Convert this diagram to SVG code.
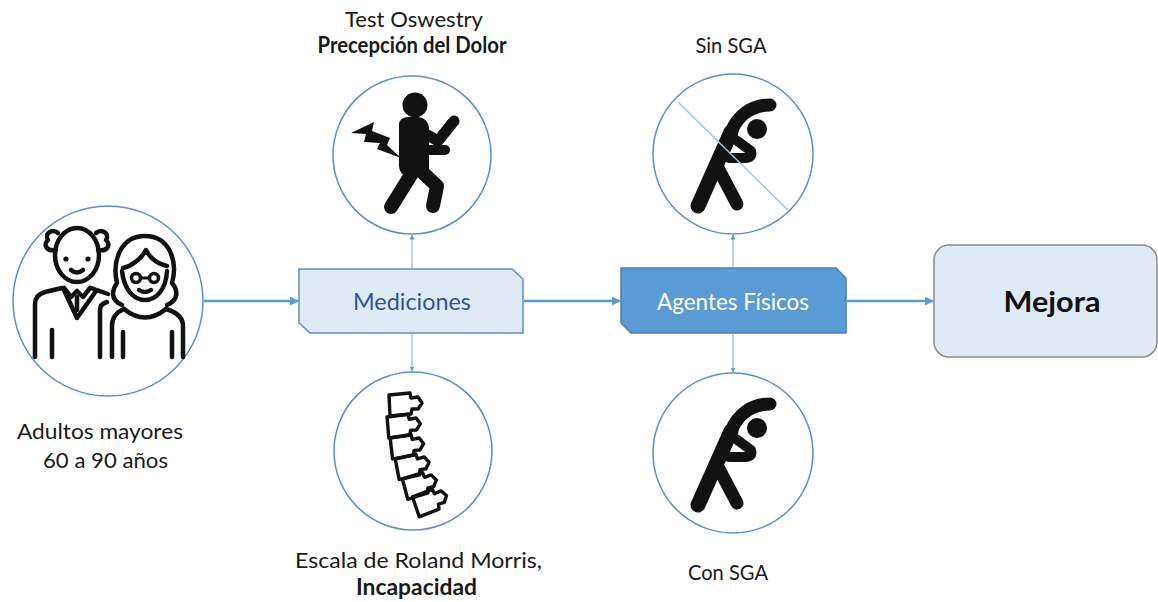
<svg xmlns="http://www.w3.org/2000/svg" width="1158" height="602" viewBox="0 0 1158 602">
  <defs>
    <marker id="arrow" viewBox="0 0 10 10" refX="9" refY="5" markerWidth="5" markerHeight="5" orient="auto" markerUnits="userSpaceOnUse">
      <path d="M0,0 L10,5 L0,10 z" fill="#5B9BD5"/>
    </marker>
    <marker id="arrowS" viewBox="0 0 10 10" refX="9" refY="5" markerWidth="9" markerHeight="9" orient="auto" markerUnits="userSpaceOnUse">
      <path d="M0,0 L10,5 L0,10 z" fill="#5B9BD5"/>
    </marker>
    <path id="vert" d="M0,2 L21,0 L22,5 L29,4 L33,10 L29,16 L23,16 L22,21 L1,23 Z"/>
  </defs>
  <style>
    .lbl { font-family: Lato, "Open Sans", "Liberation Sans", sans-serif; font-size: 22px; fill: #1a1a1a; }
    .b { font-weight: bold; }
    .ring { fill: #ffffff; stroke: #5B8FC9; stroke-width: 1.5; }
    .line-h { stroke: #5B9BD5; stroke-width: 2.5; fill: none; }
    .line-v { stroke: #8DB6E0; stroke-width: 1.2; fill: none; }
    .ink { fill: none; stroke: #111; stroke-width: 4.5; stroke-linecap: round; stroke-linejoin: round; }
    .solid { fill: #111; }
    .limb { fill: none; stroke: #111; stroke-linecap: round; stroke-linejoin: round; }
  </style>
  <rect width="1158" height="602" fill="#ffffff"/>

  <!-- connectors -->
  <g id="connectors">
    <line class="line-h" x1="204" y1="301" x2="298" y2="301" marker-end="url(#arrowS)"/>
    <line class="line-h" x1="524" y1="301" x2="620" y2="301" marker-end="url(#arrowS)"/>
    <line class="line-h" x1="847" y1="301" x2="933" y2="301" marker-end="url(#arrowS)"/>
    <line class="line-v" x1="412" y1="268" x2="412" y2="235" marker-end="url(#arrow)"/>
    <line class="line-v" x1="412" y1="334" x2="412" y2="371" marker-end="url(#arrow)"/>
    <line class="line-v" x1="733" y1="267" x2="733" y2="235" marker-end="url(#arrow)"/>
    <line class="line-v" x1="733" y1="334" x2="733" y2="372" marker-end="url(#arrow)"/>
  </g>

  <!-- elderly couple -->
  <g id="adultos">
    <circle class="ring" cx="108" cy="301" r="95"/>
    <!-- man -->
    <ellipse class="ink" cx="77" cy="255" rx="22" ry="27"/>
    <path class="ink" d="M56,250 C46,252 43,244 48,240 C44,234 52,228 58,233"/>
    <path class="ink" d="M98,250 C108,252 111,244 106,240 C110,234 102,228 96,233"/>
    <circle class="solid" cx="66" cy="259" r="2.6"/>
    <circle class="solid" cx="88" cy="259" r="2.6"/>
    <path class="ink" d="M71,270 Q77,275 83,270"/>
    <path class="ink" d="M64,288 L71,297 L77,291 L83,297 L90,288"/>
    <path class="ink" d="M77,297 L77,310"/>
    <path class="ink" d="M64,290 L77,318 L96,291"/>
    <path class="ink" d="M35,357 L35,304 Q35,295 45,292 L62,288"/>
    <path class="ink" d="M91,288 L108,294"/>
    <path class="ink" d="M52,357 L52,330"/>
    <path class="ink" d="M100,357 L100,310 Q100,304 107,302"/>
    <!-- woman -->
    <path class="ink" d="M122,305 C110,300 112,290 117,283 C112,262 120,236 145,236 C170,236 178,262 172,283 C178,290 179,300 167,305"/>
    <path class="ink" d="M123,268 C132,266 142,258 146,250 C150,258 158,264 167,266"/>
    <path class="ink" d="M122,271 C124,290 134,300 145,300 C156,300 166,290 167,271"/>
    <circle class="ink" cx="136" cy="278" r="4.5" style="stroke-width:3.5"/>
    <circle class="ink" cx="154" cy="278" r="4.5" style="stroke-width:3.5"/>
    <path class="ink" d="M141,278 L149,278" style="stroke-width:3"/>
    <path class="ink" d="M139,290 Q145,294 151,290"/>
    <path class="ink" d="M124,309 Q145,326 166,309"/>
    <path class="ink" d="M112,357 L112,326 Q112,314 124,309"/>
    <path class="ink" d="M183,357 L183,326 Q183,314 166,309"/>
    <path class="ink" d="M123,357 L123,332"/>
    <path class="ink" d="M172,357 L172,332"/>
  </g>

  <!-- pain figure -->
  <g id="oswestry">
    <circle class="ring" cx="412" cy="155" r="79"/>
    <circle class="solid" cx="415" cy="105" r="12.5"/>
    <path class="solid" d="M399,125 Q399,117 409,117 L418,117 Q428,118 429,128 L429,168 Q429,177 420,177 L412,177 Q400,177 399,166 Z"/>
    <path class="limb" d="M424,133 L438,141 L454,121" stroke-width="11"/>
    <path class="limb" d="M426,150 L445,150" stroke-width="10"/>
    <path class="limb" d="M414,170 L391,207" stroke-width="14"/>
    <path class="limb" d="M420,170 L437,186 L433,206" stroke-width="14"/>
    <polygon class="solid" points="351,133 374,122 372,131 390,138 387,145 401,158 377,149 380,143 364,142 366,134"/>
  </g>

  <!-- spine -->
  <g id="roland-morris" fill="none" stroke="#111" stroke-width="3.4" stroke-linejoin="round">
    <circle class="ring" cx="413" cy="451" r="79"/>
    <use href="#vert" transform="translate(389,393)"/>
    <use href="#vert" transform="translate(387,415) rotate(-2)"/>
    <use href="#vert" transform="translate(390,436) rotate(-4)"/>
    <use href="#vert" transform="translate(395,457) rotate(-8)"/>
    <use href="#vert" transform="translate(402,477) rotate(-12)"/>
    <use href="#vert" transform="translate(412,495) rotate(-16)"/>
  </g>

  <!-- stretching, crossed out -->
  <g id="sin-sga">
    <circle class="ring" cx="733" cy="154" r="80"/>
    <circle class="solid" cx="757" cy="129" r="10"/>
    <path class="limb" d="M770,105 C752,105 738,115 731,132" stroke-width="13"/>
    <path class="limb" d="M731,132 L698,206" stroke-width="15"/>
    <path class="limb" d="M718,168 L737,204" stroke-width="13"/>
    <path class="limb" d="M736,140 L751,151 Q753,158 745,158 L729,158" stroke-width="10"/>
    <line x1="678" y1="102" x2="788" y2="210" stroke="#9DC3E6" stroke-width="1.5"/>
  </g>

  <!-- stretching -->
  <g id="con-sga">
    <circle class="ring" cx="733" cy="453" r="80"/>
    <circle class="solid" cx="757" cy="428" r="10"/>
    <path class="limb" d="M770,404 C752,404 738,414 731,431" stroke-width="13"/>
    <path class="limb" d="M731,431 L698,505" stroke-width="15"/>
    <path class="limb" d="M718,467 L737,503" stroke-width="13"/>
    <path class="limb" d="M736,439 L751,450 Q753,457 745,457 L729,457" stroke-width="10"/>
  </g>

  <!-- process boxes -->
  <g id="mediciones">
    <path d="M299,269 L512,269 L523,279 L523,333 L310,333 L299,323 Z" fill="#DEEBF7" stroke="#5B8FC9" stroke-width="1.5"/>
    <text x="412" y="310" text-anchor="middle" font-family="Lato, 'Open Sans', 'Liberation Sans', sans-serif" font-size="23" fill="#2F5597" textLength="118" lengthAdjust="spacingAndGlyphs">Mediciones</text>
  </g>
  <g id="agentes">
    <path d="M621,268 L836,268 L846,278 L846,333 L631,333 L621,323 Z" fill="#5B9BD5" stroke="#4A7FB8" stroke-width="1.5"/>
    <text x="733" y="310" text-anchor="middle" font-family="Lato, 'Open Sans', 'Liberation Sans', sans-serif" font-size="23" fill="#ffffff" textLength="152" lengthAdjust="spacingAndGlyphs">Agentes Físicos</text>
  </g>
  <g id="mejora">
    <rect x="934" y="245" width="223" height="112" rx="15" fill="#DEEBF7" stroke="#8C8C8C" stroke-width="1.5"/>
    <text x="1052" y="312" text-anchor="middle" font-family="Lato, 'Open Sans', 'Liberation Sans', sans-serif" font-size="28" font-weight="bold" fill="#111" textLength="97" lengthAdjust="spacingAndGlyphs">Mejora</text>
  </g>

  <!-- labels -->
  <g id="labels">
    <text class="lbl" x="414" y="27" text-anchor="middle" textLength="138" lengthAdjust="spacingAndGlyphs">Test Oswestry</text>
    <text class="lbl b" x="412" y="53" text-anchor="middle" textLength="189" lengthAdjust="spacingAndGlyphs">Precepción del Dolor</text>
    <text class="lbl" x="731" y="53" text-anchor="middle" textLength="71" lengthAdjust="spacingAndGlyphs">Sin SGA</text>
    <text class="lbl" x="17" y="439" textLength="166" lengthAdjust="spacingAndGlyphs">Adultos mayores</text>
    <text class="lbl" x="43" y="468" textLength="125" lengthAdjust="spacingAndGlyphs">60 a 90 años</text>
    <text class="lbl" x="295" y="568" textLength="247" lengthAdjust="spacingAndGlyphs">Escala de Roland Morris,</text>
    <text class="lbl b" x="356" y="595" textLength="121" lengthAdjust="spacingAndGlyphs">Incapacidad</text>
    <text class="lbl" x="728" y="580" text-anchor="middle" textLength="80" lengthAdjust="spacingAndGlyphs">Con SGA</text>
  </g>
</svg>
